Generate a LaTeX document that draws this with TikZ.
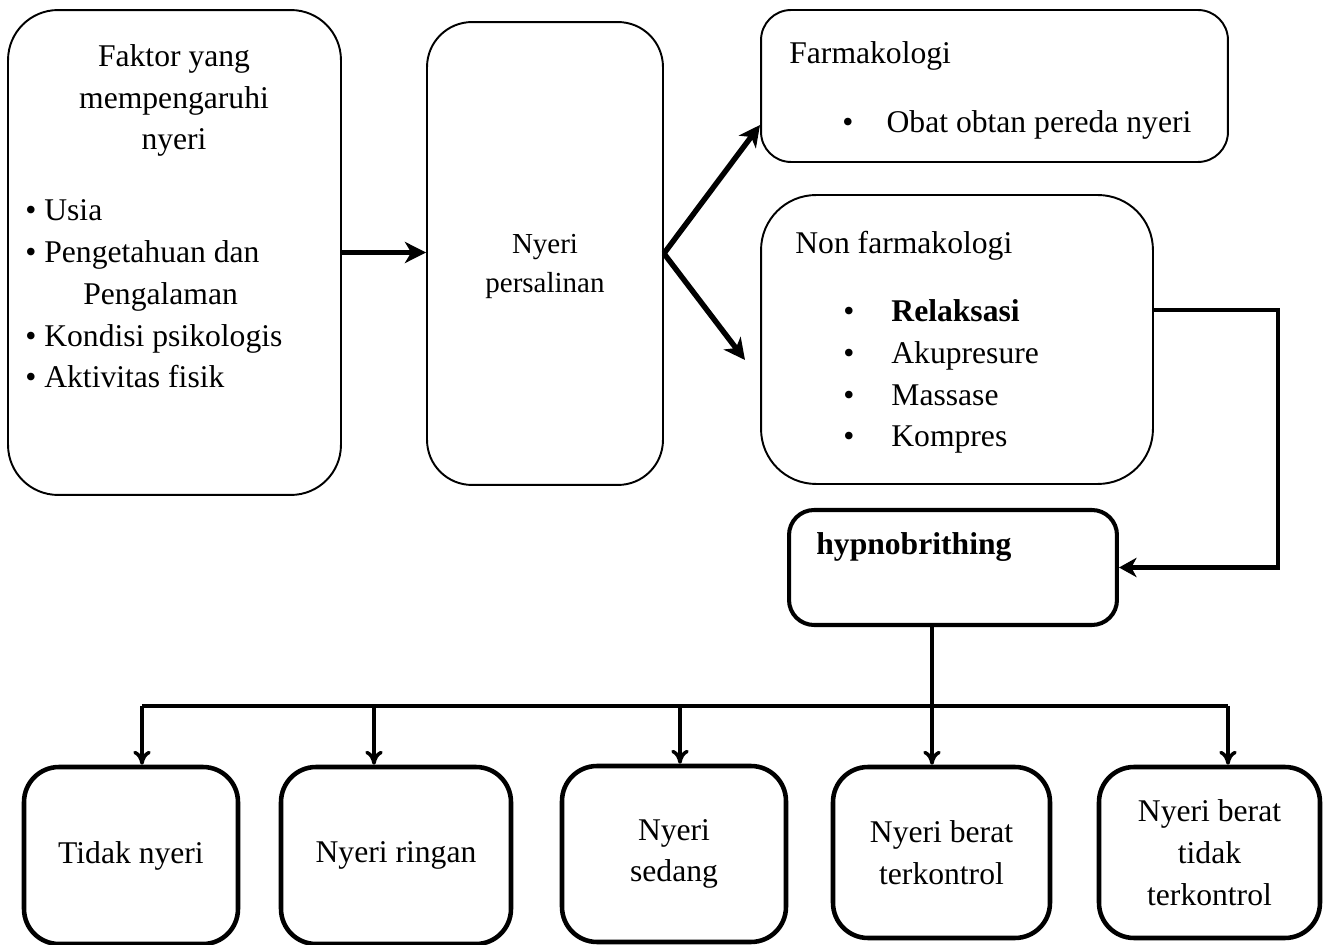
\documentclass[tikz,border=0pt]{standalone}
\usepackage{fontspec}
\setmainfont{Liberation Serif}
\usetikzlibrary{arrows.meta}

\begin{document}
\begin{tikzpicture}[x=0.02cm, y=-0.02cm,
  every node/.style={font=\fontsize{18}{23.8}\selectfont, inner sep=0pt},
  thinbox/.style={draw, line width=1.1pt},
  thickbox/.style={draw, line width=2.6pt, align=center},
  bigarrow/.style={line width=3.1pt, -{Stealth[length=12pt, width=12pt, inset=3.5pt]}},
  smallarrow/.style={line width=2pt, -{To[length=8pt, width=10pt]}}]
\useasboundingbox (0,0) rectangle (1323,945);
% upper row of boxes
\node[thinbox, rounded corners=1cm, minimum width=6.66cm, minimum height=9.7cm] (faktor) at (174.5,252.5) {};
\node[thinbox, rounded corners=0.9cm, minimum width=4.72cm, minimum height=9.26cm] (nyeri) at (545,253.5) {};
\node[thinbox, rounded corners=0.6cm, minimum width=9.34cm, minimum height=3.04cm] (farma) at (994.5,86) {};
\node[thinbox, rounded corners=1.1cm, minimum width=7.84cm, minimum height=5.78cm] (nonfarma) at (957,339.5) {};
% texts of the upper row (base = last line)
\node[align=center, anchor=base] (faktorT) at (174,150) {Faktor yang\\mempengaruhi\\nyeri};
\node[align=left, anchor=base west] (faktorL) at (25,388)
  {\textbullet\ Usia\\\textbullet\ Pengetahuan dan\\\hspace*{1.16cm}Pengalaman\\\textbullet\ Kondisi psikologis\\\textbullet\ Aktivitas fisik};
\node[align=center, anchor=base, font=\fontsize{16.5}{22.7}\selectfont] (nyeriT) at (545,293) {Nyeri\\persalinan};
\node[anchor=base west] (farmaT) at (789,64) {Farmakologi};
\node[anchor=base west] (farmaL) at (842,133) {\textbullet\hspace{1.05em}Obat obtan pereda nyeri};
\node[anchor=base west] (nonT) at (795,254) {Non farmakologi};
\node[align=left, anchor=base west] (nonL) at (843,447)
  {\textbullet\hspace{1.17em}\textbf{Relaksasi}\\\textbullet\hspace{1.17em}Akupresure\\\textbullet\hspace{1.17em}Massase\\\textbullet\hspace{1.17em}Kompres};
% hypnobrithing
\node[thickbox, line width=2.3pt, rounded corners=0.5cm, minimum width=6.56cm, minimum height=2.3cm] (hypno) at (953,567.5) {};
\node[anchor=base west, font=\fontsize{18}{23.8}\selectfont\bfseries] (hypnoT) at (816,555) {hypnobrithing};
% lower row of boxes
\node[thickbox, rounded corners=0.7cm, minimum width=4.28cm, minimum height=3.54cm] (tidak) at (131,855.5) {Tidak nyeri};
\node[thickbox, rounded corners=0.7cm, minimum width=4.6cm, minimum height=3.54cm] (ringan) at (396,855.5) {Nyeri ringan};
\node[thickbox, rounded corners=0.7cm, minimum width=4.48cm, minimum height=3.52cm] (sedang) at (674,854) {Nyeri\\sedang};
\node[thickbox, rounded corners=0.7cm, minimum width=4.34cm, minimum height=3.42cm] (berat) at (941.5,852.5) {Nyeri berat\\terkontrol};
\node[thickbox, rounded corners=0.7cm, minimum width=4.42cm, minimum height=3.42cm] (tdkterkontrol) at (1209.5,852.5) {Nyeri berat\\tidak\\terkontrol};
% arrows of the upper row
\coordinate (farmaIn) at (760,125);
\coordinate (nonIn) at (745,360);
\coordinate (loop) at (1278,310);
\draw[bigarrow] (faktor.east) -- (faktor.east -| nyeri.west);
\draw[bigarrow] (nyeri.east) -- (farmaIn);
\draw[bigarrow] (nyeri.east) -- (nonIn);
\draw[line width=2.6pt, -{Stealth[length=10pt, width=11pt, inset=3pt]}] (nonfarma.east |- loop) -- (loop) |- (hypno.east);
% branches to the lower row
\coordinate (drop) at (932,625);
\coordinate (t1) at (142,706);
\coordinate (t2) at (374,706);
\coordinate (t3) at (680,706);
\coordinate (t5) at (1228,706);
\draw[line width=2pt] (t1) -- (t5);
\draw[smallarrow] (drop) -- (drop |- berat.north);
\draw[smallarrow] (t1) -- (t1 |- tidak.north);
\draw[smallarrow] (t2) -- (t2 |- ringan.north);
\draw[smallarrow] (t3) -- (t3 |- sedang.north);
\draw[smallarrow] (t5) -- (t5 |- tdkterkontrol.north);
\end{tikzpicture}
\end{document}
